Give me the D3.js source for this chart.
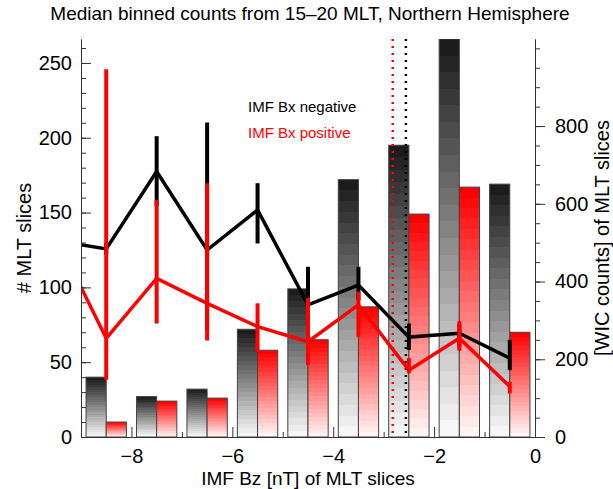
<!DOCTYPE html>
<html>
<head>
<meta charset="utf-8">
<script src="https://cdnjs.cloudflare.com/ajax/libs/d3/7.8.5/d3.min.js"></script>
<style>
  body { margin: 0; background: #fff; }
  text { font-family: "Liberation Sans", Arial, Helvetica, sans-serif; fill: #000; }
</style>
</head>
<body>
<div id="chart"></div>
<script>
// Bins of IMF Bz (lower edge of each 1 nT bin)
const binStarts = [-9, -8, -7, -6, -5, -4, -3, -2, -1];
// number of MLT slices per bin (left axis)
const slicesNeg = [40, 27, 32, 72, 99, 172, 195, 266, 169];
const slicesPos = [10, 24, 26, 58, 65, 87, 149, 167, 70];

// median WIC counts at bin centres (right axis)
const centres = [-9.5, -8.5, -7.5, -6.5, -5.5, -4.5, -3.5, -2.5, -1.5, -0.5];
const wicNeg = [505, 484, 683, 481, 584, 340, 391, 257, 267, 203];
const wicNegLow = [null, 470, 593, 275, 498, 301, 352, 224, 232, 172];
const wicNegHigh = [null, 500, 774, 809, 653, 438, 438, 292, 290, 250];
const wicPos = [517, 254, 408, 344, 284, 245, 340, 172, 254, 130];
const wicPosLow = [null, 147, 292, 248, 220, 185, 258, 164, 222, 112];
const wicPosHigh = [null, 946, 610, 653, 344, 358, 374, 203, 298, 142];

// dotted reference lines (Bz)
const markBz = [-2.82, -2.56];
const markColors = ["red", "black"];

const seriesNames = ["IMF Bx negative", "IMF Bx positive"];

const svgWidth = 613;
const svgHeight = 489;
const margin = { top: 39, right: 78, bottom: 52, left: 81 };
const width = svgWidth - margin.left - margin.right;
const height = svgHeight - margin.top - margin.bottom;

const svg = d3.select("#chart")
  .append("svg")
  .attr("width", svgWidth)
  .attr("height", svgHeight);

// stepped gradients for the bars
const defs = svg.append("defs");
function steppedGradient(id, top, bottom, steps) {
  const g = defs.append("linearGradient")
    .attr("id", id)
    .attr("x1", 0).attr("y1", 0).attr("x2", 0).attr("y2", 1);
  const col = d3.interpolateRgb(top, bottom);
  for (let i = 0; i < steps; i++) {
    const c = col(i / (steps - 1));
    g.append("stop").attr("offset", i / steps).attr("stop-color", c);
    g.append("stop").attr("offset", (i + 1) / steps).attr("stop-color", c);
  }
}
steppedGradient("gradNeg", "#1c1c1c", "#f6f6f6", 24);
steppedGradient("gradPos", "#ff0000", "#fff4f4", 24);

defs.append("clipPath").attr("id", "plotClip")
  .append("rect").attr("width", width).attr("height", height);

const chartGroup = svg.append("g")
  .attr("transform", `translate(${margin.left}, ${margin.top})`);

// Scales
const xScale = d3.scaleLinear().domain([-9, 0]).range([0, width]);
const yLeft = d3.scaleLinear().domain([0, 266]).range([height, 0]);
const yRight = d3.scaleLinear().domain([0, 1024]).range([height, 0]);

const plot = chartGroup.append("g").attr("clip-path", "url(#plotClip)");

// Bars
plot.selectAll(".barNeg")
  .data(binStarts)
  .enter()
  .append("rect")
  .attr("x", (d) => xScale(d + 0.1))
  .attr("width", (d) => xScale(d + 0.5) - xScale(d + 0.1))
  .attr("y", (d, i) => yLeft(slicesNeg[i]))
  .attr("height", (d, i) => height - yLeft(slicesNeg[i]))
  .attr("fill", "url(#gradNeg)")
  .attr("stroke", "#444")
  .attr("stroke-width", 1);

plot.selectAll(".barPos")
  .data(binStarts)
  .enter()
  .append("rect")
  .attr("x", (d) => xScale(d + 0.5))
  .attr("width", (d) => xScale(d + 0.9) - xScale(d + 0.5))
  .attr("y", (d, i) => yLeft(slicesPos[i]))
  .attr("height", (d, i) => height - yLeft(slicesPos[i]))
  .attr("fill", "url(#gradPos)")
  .attr("stroke", "#444")
  .attr("stroke-width", 1);

// dotted lines
plot.selectAll(".mark")
  .data(markBz)
  .enter()
  .append("line")
  .attr("x1", (d) => xScale(d))
  .attr("x2", (d) => xScale(d))
  .attr("y1", 0)
  .attr("y2", height)
  .attr("stroke", (d, i) => markColors[i])
  .attr("stroke-width", 2.5)
  .attr("stroke-dasharray", "2,5");

// Lines with error bars
function drawSeries(vals, lows, highs, color) {
  const line = d3.line()
    .x((d, i) => xScale(centres[i]))
    .y((d) => yRight(d));
  plot.append("path")
    .datum(vals)
    .attr("d", line)
    .attr("fill", "none")
    .attr("stroke", color)
    .attr("stroke-width", 3.5)
    .attr("stroke-linejoin", "miter");
  plot.selectAll(null)
    .data(centres.filter((c, i) => lows[i] != null))
    .enter()
    .append("line")
    .attr("x1", (d) => xScale(d))
    .attr("x2", (d) => xScale(d))
    .attr("y1", (d) => yRight(lows[centres.indexOf(d)]))
    .attr("y2", (d) => yRight(highs[centres.indexOf(d)]))
    .attr("stroke", color)
    .attr("stroke-width", 4);
}
drawSeries(wicNeg, wicNegLow, wicNegHigh, "black");
drawSeries(wicPos, wicPosLow, wicPosHigh, "red");

// Axes
function styleAxis(g) {
  g.selectAll("path, line").attr("stroke", "#333").attr("stroke-width", 1);
  g.selectAll("text").attr("font-size", "20px").attr("fill", "#000")
    .attr("font-family", "'Liberation Sans', Arial, sans-serif");
}

chartGroup.append("g")
  .attr("transform", `translate(0, ${height})`)
  .call(d3.axisBottom(xScale).tickValues([-7, -5, -3, -1]).tickSizeInner(-5).tickSizeOuter(0).tickFormat(""))
  .call(styleAxis);
chartGroup.append("g")
  .attr("transform", `translate(0, ${height})`)
  .call(d3.axisBottom(xScale).tickValues([-8, -6, -4, -2, 0]).tickSizeInner(-10).tickSizeOuter(0).tickPadding(12))
  .call(styleAxis);

chartGroup.append("g")
  .call(d3.axisLeft(yLeft).tickValues(d3.range(0, 261, 10)).tickSizeInner(-5).tickSizeOuter(0).tickFormat(""))
  .call(styleAxis);
chartGroup.append("g")
  .call(d3.axisLeft(yLeft).tickValues([0, 50, 100, 150, 200, 250]).tickSizeInner(-10).tickSizeOuter(0).tickPadding(9))
  .call(styleAxis);

chartGroup.append("g")
  .attr("transform", `translate(${width}, 0)`)
  .call(d3.axisRight(yRight).tickValues(d3.range(0, 1001, 50)).tickSizeInner(5).tickSizeOuter(0).tickFormat(""))
  .call(styleAxis);
chartGroup.append("g")
  .attr("transform", `translate(${width}, 0)`)
  .call(d3.axisRight(yRight).tickValues([0, 200, 400, 600, 800]).tickSizeInner(10).tickSizeOuter(0).tickPadding(10))
  .call(styleAxis);

// Legend
chartGroup.selectAll(".legend")
  .data(seriesNames)
  .enter()
  .append("text")
  .attr("x", 167)
  .attr("y", (d, i) => 73 + i * 26)
  .attr("font-size", "15px")
  .style("fill", (d, i) => (i === 0 ? "#000" : "red"))
  .text((d) => d);

// Title and axis labels
svg.append("text")
  .attr("x", 310)
  .attr("y", 20)
  .attr("text-anchor", "middle")
  .attr("font-size", "19px")
  .text("Median binned counts from 15\u201320 MLT, Northern Hemisphere");

svg.append("text")
  .attr("x", margin.left + width / 2)
  .attr("y", 485)
  .attr("text-anchor", "middle")
  .attr("font-size", "19px")
  .text("IMF Bz [nT] of MLT slices");

svg.append("text")
  .attr("transform", `translate(31, ${margin.top + height / 2}) rotate(-90)`)
  .attr("text-anchor", "middle")
  .attr("font-size", "20px")
  .text("# MLT slices");

svg.append("text")
  .attr("transform", `translate(609, ${margin.top + height / 2}) rotate(-90)`)
  .attr("text-anchor", "middle")
  .attr("font-size", "20px")
  .text("[WIC counts] of MLT slices");
</script>
</body>
</html>
